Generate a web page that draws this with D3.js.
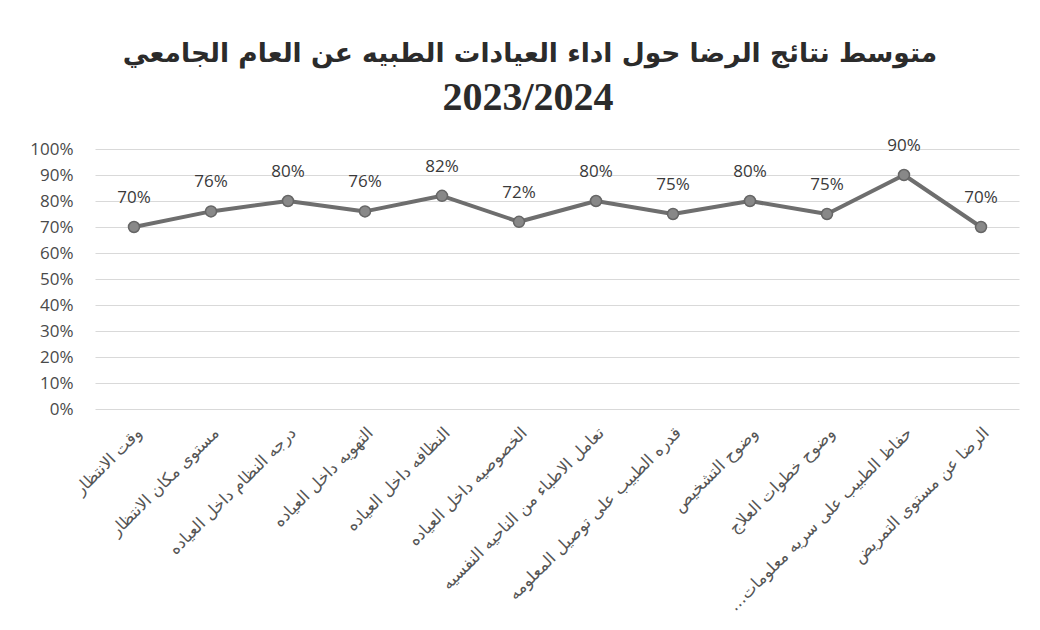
<!DOCTYPE html>
<html><head><meta charset="utf-8">
<script src="https://cdn.jsdelivr.net/npm/d3@7"></script>
<style>body{margin:0;background:#fff}svg{display:block}</style>
</head><body>
<svg id="c" width="1040" height="630"></svg>
<script>
const titleLine1 = "متوسط نتائج الرضا حول اداء العيادات الطبيه عن العام الجامعي";
const titleLine2 = "2023/2024";
const categories = [
  "وقت الانتظار",
  "مستوى مكان الانتظار",
  "درجه النظام داخل العياده",
  "التهويه داخل العياده",
  "النظافه داخل العياده",
  "الخصوصيه داخل العياده",
  "تعامل الاطباء من الناحيه النفسيه",
  "قدره الطبيب على توصيل المعلومه",
  "وضوح التشخيص",
  "وضوح خطوات العلاج",
  "حفاظ الطبيب على سريه معلومات…",
  "الرضا عن مستوى التمريض"
];
const values = [70, 76, 80, 76, 82, 72, 80, 75, 80, 75, 90, 70];
const yTicks = [0, 10, 20, 30, 40, 50, 60, 70, 80, 90, 100];

const svg = d3.select("#c");
const W = 1040, H = 630;
const m = {left: 95.5, right: 20.5, top: 149, bottom: 221};

const x = d3.scaleBand().domain(categories).range([m.left, W - m.right]);
const y = d3.scaleLinear().domain([0, 100]).range([H - m.bottom, m.top]);

// Title
svg.append("text").attr("x", 530).attr("y", 62).attr("text-anchor", "middle")
  .attr("font-family", "DejaVu Sans").attr("font-weight", "bold").attr("font-size", 26.5)
  .attr("fill", "#2b2b2b").text(titleLine1);
svg.append("text").attr("x", 528).attr("y", 110).attr("text-anchor", "middle")
  .attr("font-family", "Liberation Serif").attr("font-weight", "bold").attr("font-size", 40)
  .attr("fill", "#2b2b2b").text(titleLine2);

// Gridlines + y axis
const yAxis = d3.axisLeft(y).tickValues(yTicks).tickSize(-(W - m.left - m.right))
  .tickFormat(d => d + "%").tickPadding(22);
const gy = svg.append("g").attr("transform", `translate(${m.left},0)`).call(yAxis);
gy.select(".domain").remove();
gy.selectAll(".tick line").attr("stroke", "#d9d9d9").attr("stroke-width", 1);
gy.selectAll(".tick text").attr("font-family", "Open Sans").attr("font-size", 17)
  .attr("fill", "#4a4a4a");

// X axis labels
const xAxis = d3.axisBottom(x).tickSize(0).tickPadding(0);
const gx = svg.append("g").attr("transform", `translate(0,${H - m.bottom})`).call(xAxis);
gx.select(".domain").remove();
gx.selectAll(".tick text")
  .attr("font-family", "DejaVu Sans").attr("font-size", 16.5).attr("fill", "#555")
  .attr("direction", "rtl").attr("text-anchor", "start").attr("dy", 0)
  .attr("transform", "translate(9,25) rotate(-45)");

// Line
const cx = d => x(d.c) + x.bandwidth() / 2;
const data = categories.map((c, i) => ({c, v: values[i]}));
svg.append("path").datum(data)
  .attr("d", d3.line().x(cx).y(d => y(d.v)))
  .attr("fill", "none").attr("stroke", "#6e6e6e").attr("stroke-width", 4)
  .attr("stroke-linejoin", "round");
svg.selectAll("circle.pt").data(data).join("circle")
  .attr("cx", cx).attr("cy", d => y(d.v)).attr("r", 5.5)
  .attr("fill", "#888").attr("stroke", "#666").attr("stroke-width", 1.5);

// Data labels
svg.selectAll("text.lbl").data(data).join("text")
  .attr("x", cx).attr("y", d => y(d.v) - 24).attr("text-anchor", "middle")
  .attr("font-family", "Open Sans").attr("font-size", 17).attr("fill", "#3a3a3a")
  .text(d => d.v + "%");
</script>
</body></html>
